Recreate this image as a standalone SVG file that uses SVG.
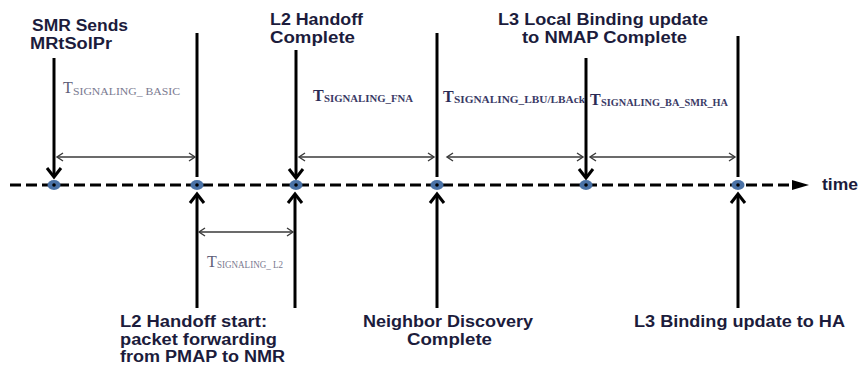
<svg xmlns="http://www.w3.org/2000/svg" width="861" height="367" viewBox="0 0 861 367">
<style>
.lbl{font-family:"Liberation Sans",Arial,sans-serif;font-size:16px;font-weight:bold;fill:#1c1c3c}
.T{font-family:"Liberation Serif","Times New Roman",serif;font-size:16px;fill:#2a2a55}
.Tl{fill:#5e5e78}
.sub{font-family:"Liberation Serif","Times New Roman",serif;font-size:10px;font-weight:bold;fill:#3a3a66}
.subl{fill:#7a7a90;font-weight:normal}
.thick{stroke:#000;stroke-width:3;fill:none}
.thin{stroke:#3a3a3a;stroke-width:1.4;fill:none}
.dot{fill:#4a72a6}
.ctr{fill:#000}
</style>
<defs>
<marker id="chev" markerUnits="userSpaceOnUse" markerWidth="18" markerHeight="18" refX="11" refY="9" orient="auto">
<path d="M2,2 L11,9 L2,16" fill="none" stroke="#000" stroke-width="3"/>
</marker>
<marker id="tchev" markerUnits="userSpaceOnUse" markerWidth="10" markerHeight="10" refX="7" refY="5" orient="auto-start-reverse">
<path d="M1,1 L7,5 L1,9" fill="none" stroke="#3a3a3a" stroke-width="1.4"/>
</marker>
</defs>

<g id="connectors">
<line x1="10" y1="185" x2="796" y2="185" stroke="#000" stroke-width="3" stroke-dasharray="11,5"/>
<polygon points="792,180 809,185 792,190" fill="#000"/>
<line class="thick" x1="54" y1="58" x2="54" y2="177" marker-end="url(#chev)"/>
<line class="thick" x1="197" y1="33" x2="197" y2="177"/>
<line class="thick" x1="296" y1="50" x2="296" y2="178" marker-end="url(#chev)"/>
<line class="thick" x1="437" y1="33" x2="437" y2="177"/>
<line class="thick" x1="586" y1="58" x2="586" y2="178" marker-end="url(#chev)"/>
<line class="thick" x1="738" y1="36" x2="738" y2="177"/>
<line class="thick" x1="197" y1="308" x2="197" y2="194" marker-end="url(#chev)"/>
<line class="thick" x1="295" y1="308" x2="295" y2="194" marker-end="url(#chev)"/>
<line class="thick" x1="437" y1="308" x2="437" y2="194" marker-end="url(#chev)"/>
<line class="thick" x1="738" y1="308" x2="738" y2="194" marker-end="url(#chev)"/>
<line class="thin" x1="57" y1="157" x2="195" y2="157" marker-start="url(#tchev)" marker-end="url(#tchev)"/>
<line class="thin" x1="299" y1="157" x2="434" y2="157" marker-start="url(#tchev)" marker-end="url(#tchev)"/>
<line class="thin" x1="447" y1="157" x2="583" y2="157" marker-start="url(#tchev)" marker-end="url(#tchev)"/>
<line class="thin" x1="590" y1="157" x2="735" y2="157" marker-start="url(#tchev)" marker-end="url(#tchev)"/>
<line class="thin" x1="199" y1="232" x2="293" y2="232" marker-start="url(#tchev)" marker-end="url(#tchev)"/>
</g>

<g id="p1"><ellipse class="dot" cx="54" cy="185" rx="6.5" ry="5"/><circle class="ctr" cx="54" cy="185" r="1.8"/></g>
<g id="p2"><ellipse class="dot" cx="197" cy="185" rx="6.5" ry="5"/><circle class="ctr" cx="197" cy="185" r="1.8"/></g>
<g id="p3"><ellipse class="dot" cx="296" cy="185" rx="6.5" ry="5"/><circle class="ctr" cx="296" cy="185" r="1.8"/></g>
<g id="p4"><ellipse class="dot" cx="437" cy="185" rx="6.5" ry="5"/><circle class="ctr" cx="437" cy="185" r="1.8"/></g>
<g id="p5"><ellipse class="dot" cx="586" cy="185" rx="6.5" ry="5"/><circle class="ctr" cx="586" cy="185" r="1.8"/></g>
<g id="p6"><ellipse class="dot" cx="738" cy="185" rx="6.5" ry="5"/><circle class="ctr" cx="738" cy="185" r="1.8"/></g>

<g id="label-smr">
<text class="lbl" x="32" y="31" textLength="96" lengthAdjust="spacingAndGlyphs">SMR Sends</text>
<text class="lbl" x="30" y="49" textLength="82" lengthAdjust="spacingAndGlyphs">MRtSolPr</text>
</g>
<g id="label-l2complete">
<text class="lbl" x="270" y="25" textLength="93" lengthAdjust="spacingAndGlyphs">L2 Handoff</text>
<text class="lbl" x="270" y="43" textLength="85" lengthAdjust="spacingAndGlyphs">Complete</text>
</g>
<g id="label-l3local">
<text class="lbl" x="498" y="25" textLength="210" lengthAdjust="spacingAndGlyphs">L3 Local Binding update</text>
<text class="lbl" x="522" y="43" textLength="165" lengthAdjust="spacingAndGlyphs">to NMAP Complete</text>
</g>
<g id="label-l2start">
<text class="lbl" x="120" y="327" textLength="147" lengthAdjust="spacingAndGlyphs">L2 Handoff start:</text>
<text class="lbl" x="120" y="345" textLength="157" lengthAdjust="spacingAndGlyphs">packet forwarding</text>
<text class="lbl" x="120" y="362" textLength="165" lengthAdjust="spacingAndGlyphs">from PMAP to NMR</text>
</g>
<g id="label-nd">
<text class="lbl" x="363" y="327" textLength="170" lengthAdjust="spacingAndGlyphs">Neighbor Discovery</text>
<text class="lbl" x="407" y="345" textLength="85" lengthAdjust="spacingAndGlyphs">Complete</text>
</g>
<g id="label-l3ha">
<text class="lbl" x="634" y="327" textLength="211" lengthAdjust="spacingAndGlyphs">L3 Binding update to HA</text>
</g>
<g id="label-time">
<text class="lbl" x="822" y="190" textLength="36" lengthAdjust="spacingAndGlyphs">time</text>
</g>

<g id="t-basic">
<text class="T Tl" x="63" y="93">T</text>
<text class="sub subl" x="73" y="95" textLength="107" lengthAdjust="spacingAndGlyphs">SIGNALING_ BASIC</text>
</g>
<g id="t-fna">
<text class="T" x="313" y="101" font-weight="bold">T</text>
<text class="sub" x="324" y="102" textLength="89" lengthAdjust="spacingAndGlyphs">SIGNALING_FNA</text>
</g>
<g id="t-lbu">
<text class="T" x="443" y="102" font-weight="bold">T</text>
<text class="sub" x="454" y="103" textLength="131" lengthAdjust="spacingAndGlyphs">SIGNALING_LBU/LBAck</text>
</g>
<g id="t-ba">
<text class="T" x="590" y="105" font-weight="bold">T</text>
<text class="sub" x="601" y="106" textLength="127" lengthAdjust="spacingAndGlyphs">SIGNALING_BA_SMR_HA</text>
</g>
<g id="t-l2">
<text class="T Tl" x="207" y="267">T</text>
<text class="sub subl" x="217" y="268" textLength="66" lengthAdjust="spacingAndGlyphs">SIGNALING_ L2</text>
</g>
</svg>
